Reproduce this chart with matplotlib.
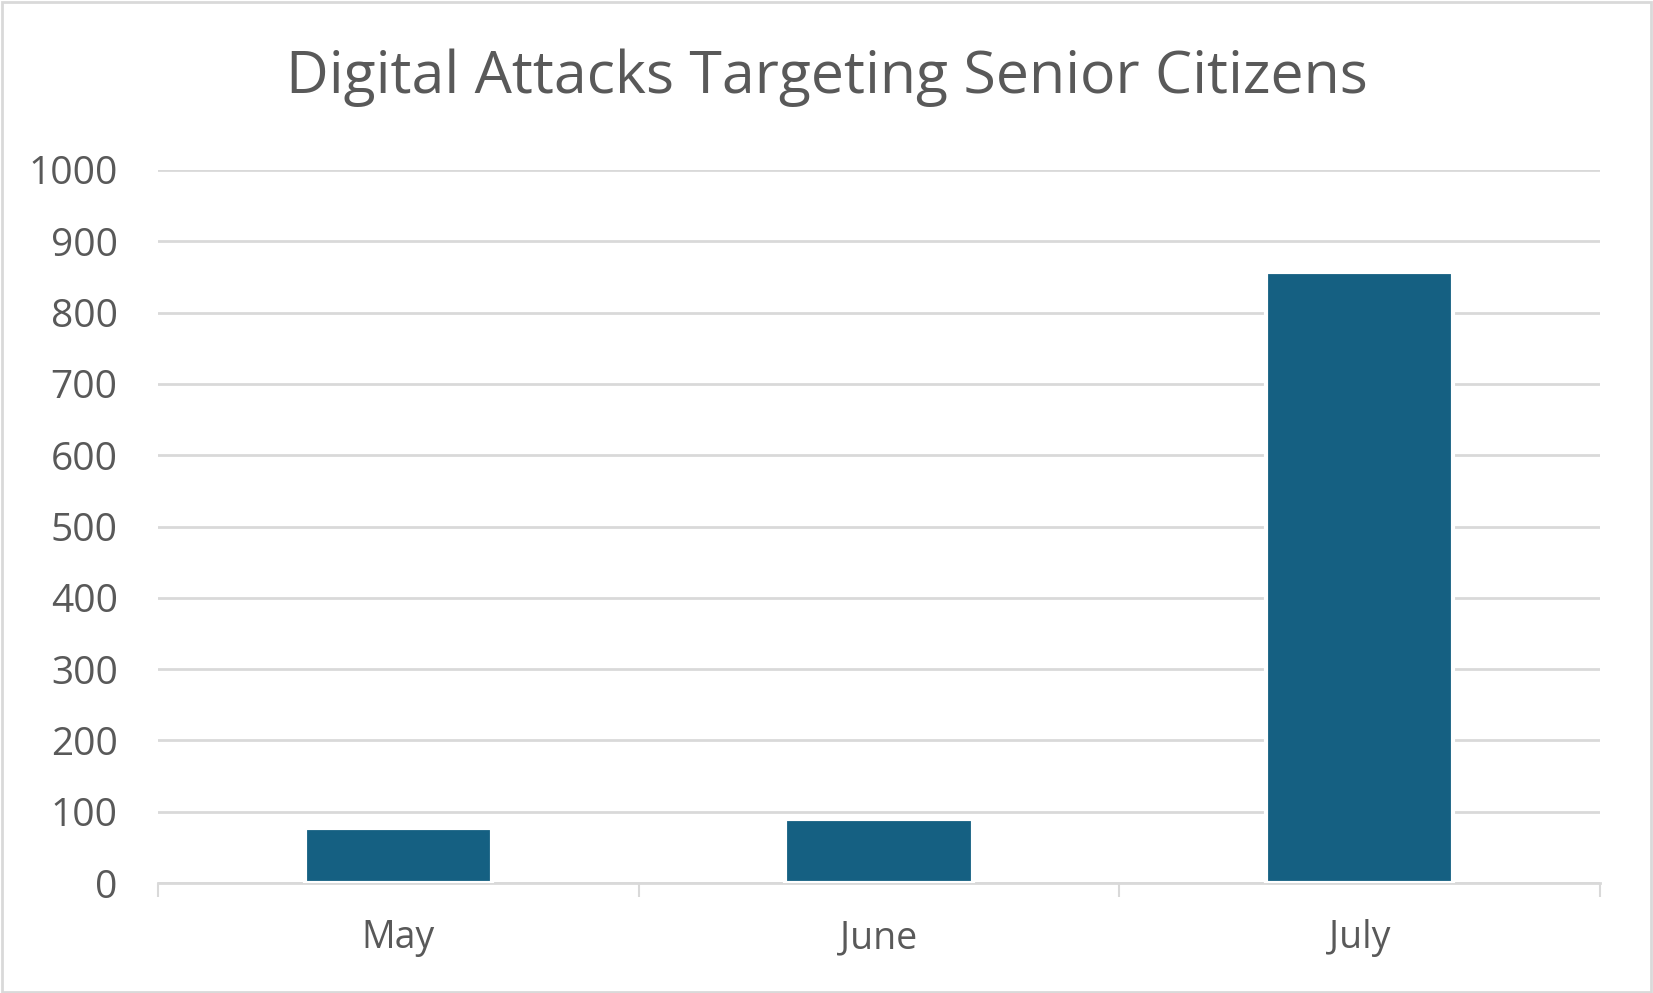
import numpy as np
import matplotlib.pyplot as plt
from matplotlib.patches import Rectangle

months = ['May', 'June', 'July']
attacks = [77, 90, 857]
yticks = [0, 100, 200, 300, 400, 500, 600, 700, 800, 900, 1000]

plt.rcParams['font.family'] = ['Open Sans', 'DejaVu Sans']

W, H = 1653, 993
fig = plt.figure(figsize=(W / 100, H / 100), dpi=100)
ax = fig.add_axes([158 / W, 1 - 883 / H, (1600 - 158) / W, (883 - 170) / H])

x = np.arange(len(months))
ax.bar(x, attacks, width=0.39, color='#156082', edgecolor='white', linewidth=3, zorder=3)

ax.set_xlim(-0.5, 2.5)
ax.set_ylim(0, 1000)
ax.set_yticks(yticks)
ax.set_yticklabels([str(v) for v in yticks], fontsize=28, color='#595959')
ax.set_xticks(x)
ax.set_xticklabels(months, fontsize=27, color='#595959')
ax.tick_params(axis='y', length=0, pad=29)
ax.tick_params(axis='x', length=0, pad=26)

# category boundary ticks
ax.set_xticks([-0.5, 0.5, 1.5, 2.5], minor=True)
ax.tick_params(axis='x', which='minor', length=10, width=1.5, color='#d9d9d9')

ax.grid(axis='y', color='#d9d9d9', linewidth=2, zorder=0)
for s in ['top', 'right', 'left']:
    ax.spines[s].set_visible(False)
ax.spines['bottom'].set_color('#d9d9d9')
ax.spines['bottom'].set_linewidth(2)

fig.text(0.5, 1 - 78 / H, 'Digital Attacks Targeting Senior Citizens', ha='center', va='center',
         fontsize=42.5, color='#595959')

fig.patches.append(Rectangle((0.001, 0.001), 0.998, 0.997, transform=fig.transFigure,
                             fill=False, edgecolor='#d9d9d9', linewidth=2))

plt.savefig('out.png', dpi=100)
